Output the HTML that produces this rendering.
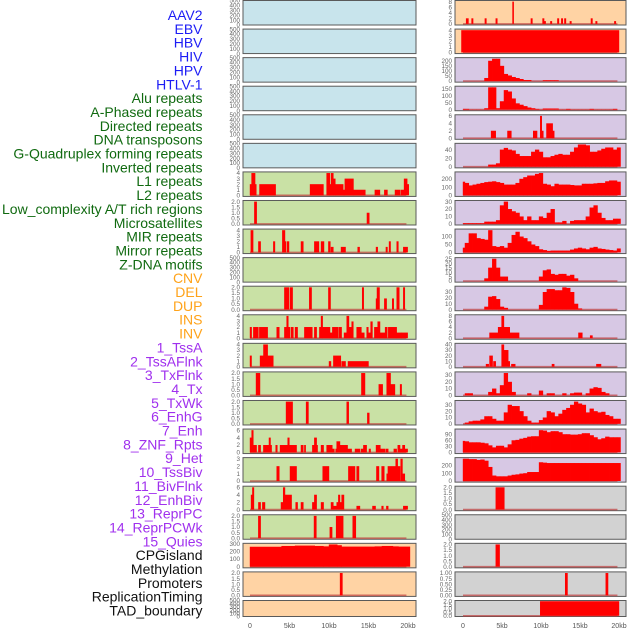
<!DOCTYPE html>
<html><head><meta charset="utf-8">
<style>
html,body{margin:0;padding:0;background:#fff;}
svg{display:block;font-family:"Liberation Sans",sans-serif;}
</style></head>
<body>
<svg id="chart" width="630" height="630" viewBox="0 0 630 630" xmlns="http://www.w3.org/2000/svg"></svg>
<script>
// ---------- labels ----------
const labelTexts = ["AAV2","EBV","HBV","HIV","HPV","HTLV-1","Alu repeats","A-Phased repeats","Directed repeats","DNA transposons","G-Quadruplex forming repeats","Inverted repeats","L1 repeats","L2 repeats","Low_complexity A/T rich regions","Microsatellites","MIR repeats","Mirror repeats","Z-DNA motifs","CNV","DEL","DUP","INS","INV","1_TssA","2_TssAFlnk","3_TxFlnk","4_Tx","5_TxWk","6_EnhG","7_Enh","8_ZNF_Rpts","9_Het","10_TssBiv","11_BivFlnk","12_EnhBiv","13_ReprPC","14_ReprPCWk","15_Quies","CPGisland","Methylation","Promoters","ReplicationTiming","TAD_boundary"];
const labelGroups = [6,13,5,15,5];
const labelColors = ["#1c1cf5","#106a10","#ffa31a","#a030ee","#111111"];
const xTickLabels = ["0","5kb","10kb","15kb","20kb"];
const xTickValues = [0,5,10,15,20];

// ---------- tick label sets ----------
const t500 = ["0","100","200","300","400","500"];
const t4 = ["0","1","2","3","4"];
const t2 = ["0.0","0.5","1.0","1.5","2.0"];
const t6 = ["0","2","4","6"];
const t3 = ["0","1","2","3"];
const t8 = ["0","2","4","6","8"];
const t300 = ["0","100","200","300"];
const t200a = ["0","50","100","150","200"];
const t150 = ["0","50","100","150"];
const t40 = ["0","20","40"];
const t200 = ["0","100","200"];
const t30 = ["0","10","20","30"];
const t100 = ["0","50","100"];
const t25 = ["0","5","10","15","20","25"];
const t40b = ["0","10","20","30","40"];
const t90 = ["0","30","60","90"];
const t1 = ["0.00","0.25","0.50","0.75","1.00"];

// ---------- left column data: segments [startKb, endKb, value] ----------
const lEmpty = [];
const lL1 = [[0,0.2,2],[0.2,0.65,4],[0.65,0.8,2],[1.2,3.25,2],[7.6,9.3,2],[9.7,10.1,4],[10.1,10.25,2],[10.25,10.55,4],[10.55,10.8,3],[10.8,11.8,2],[11.8,12.0,1],[12.0,13.1,3],[13.1,14.6,1],[15.8,16.45,1],[17.0,17.4,1],[18.35,19.0,1],[19.1,19.5,1],[19.5,19.9,3],[19.9,20.1,2]];
const lL2 = [[0.55,0.85,2],[14.8,15.1,1]];
const lLowc = [[0.1,0.4,4],[1.06,1.35,2],[2.95,3.16,2],[4.09,4.43,4],[4.43,4.55,2],[4.68,4.94,2],[6.45,6.75,2],[8.14,8.73,2],[8.99,9.37,2],[9.92,10.17,2],[10.25,10.55,1],[11.52,12.1,1],[13.63,13.88,1],[15.95,16.17,1],[17.2,17.4,1],[17.6,17.8,2],[18.57,18.78,2],[19.4,19.96,1]];
const lMIR = [[4.35,4.94,2],[5.07,5.4,2],[7.5,7.8,2],[9.92,10.2,2],[14.2,14.4,2],[15.95,16.07,1],[16.07,16.4,2],[17.0,17.3,1],[18.0,18.2,1],[18.57,18.9,2],[19.4,19.6,2]];
const lMirror = [[0,0.21,2],[0.42,1.06,2],[1.18,2.24,2],[3.38,3.71,2],[4.35,4.64,2],[4.64,4.85,4],[4.85,5.06,2],[5.19,5.49,2],[5.7,6.03,2],[6.88,7.89,2],[8.14,8.44,2],[8.78,8.99,2],[8.99,9.2,4],[9.2,10.13,2],[10.13,10.42,1],[10.42,11.18,2],[11.27,11.6,2],[11.9,12.24,1],[12.24,12.53,4],[12.53,12.87,2],[12.87,13.08,3],[13.5,14.1,2],[14.1,14.47,1],[14.77,14.98,2],[14.98,15.27,1],[15.27,15.5,3],[15.74,16.16,2],[16.16,16.46,3],[16.46,17.1,1],[17.1,17.38,2],[17.5,18.57,2],[18.57,19.2,1],[19.2,19.96,1]];
const lZDNA = [[0,0.2,2],[1.27,1.7,2],[1.7,2.24,4],[2.24,2.95,2],[10,10.25,1],[10.55,11.5,2],[11.6,12.1,1],[12.4,15.0,1]];
const lCNV = [[0.76,1.27,2],[14.1,14.56,2],[16.3,16.8,1],[17.3,17.8,2],[17.8,18.35,1],[19.0,19.2,1]];
const lDEL = [[4.56,5.4,2],[7.1,7.4,2],[12.24,12.5,2],[14.85,15.1,1]];
const lDUP = [[0,0.21,4],[0.21,0.42,6],[0.42,0.84,2],[1.06,1.35,2],[1.69,2.4,2],[2.4,2.6,4],[2.6,2.74,2],[3.25,3.46,2],[3.8,4.77,2],[4.77,4.98,4],[4.98,5.9,2],[6.45,6.75,2],[6.88,7.05,2],[7.89,8.14,2],[8.14,8.44,4],[8.44,8.56,2],[8.99,9.32,2],[9.7,10.42,2],[10.42,10.68,1],[10.84,10.97,1],[10.97,11.39,3],[11.39,12.36,2],[12.36,12.87,1],[13.29,13.92,1],[14.05,14.35,1],[14.35,14.77,2],[15.06,15.27,1],[15.95,16.5,2],[16.5,17.1,1],[17.2,17.5,1],[18.2,18.57,1],[18.7,19.0,2],[19.0,19.3,1],[19.3,19.6,2],[19.6,19.96,1]];
const lINS = [[3.38,3.71,2],[5.06,5.9,2],[9.2,10.0,2],[12.45,13.3,2],[13.5,13.8,2],[16.0,16.33,2],[16.66,17.0,2],[17.3,17.45,1],[17.45,18.44,2],[18.44,18.7,3],[18.7,19.0,2],[19.07,19.3,3],[19.3,19.6,1]];
const lINV = [[0.13,0.3,4],[0.3,0.5,6],[1.06,1.35,2],[1.56,1.9,2],[3.92,4.2,2],[4.2,4.43,6],[4.43,4.56,4],[4.56,5.27,4],[5.78,6.03,2],[6.45,6.75,2],[7.89,8.14,2],[8.14,8.44,4],[8.99,9.32,2],[10.25,10.55,2],[10.55,10.97,1],[10.97,11.18,2],[11.18,11.39,4],[11.39,11.6,2],[11.6,11.9,4],[13.5,13.92,1],[15.5,15.9,1],[16.66,16.88,1],[17.26,17.5,1],[19.4,19.96,1]];
const lTssA = [[1.05,1.35,2],[8.1,8.4,2],[10.1,10.4,1],[10.9,11.8,2],[13.0,13.4,2]];
const lCpg = [[0,4.0,260],[4.0,5.7,270],[5.7,8.2,275],[8.2,9.3,270],[9.3,10.0,265],[10.0,11.05,290],[11.05,11.6,280],[11.6,15.8,262],[15.8,16.7,265],[16.7,18.1,270],[18.1,18.8,265],[18.8,20.25,262]];
const lProm = [[11.4,11.7,2]];

// ---------- right column data ----------
const rAAV2 = [[0.4,0.7,2],[1.1,1.3,2],[2.8,3.0,2],[4.2,4.4,2],[6.35,6.5,8],[8.7,8.9,2],[10.2,10.4,2],[10.4,10.6,1],[11.2,11.4,1],[12.1,12.3,2],[12.6,12.8,2],[13.0,13.2,2],[13.7,13.9,1],[16.4,16.6,2],[17.0,17.2,1],[19.4,19.6,1]];
const rEBV = [[-0.2,20.0,4]];
const rAlu = [[3.6,4.2,2],[5.7,6.2,2],[9.0,9.5,2],[9.9,10.1,6],[10.1,10.3,2],[10.7,11.5,4],[11.5,11.7,2]];
const rL2 = [[3.4,4.5,2],[4.5,4.95,4],[4.95,5.25,8],[5.25,6.0,4],[6.0,7.2,2],[14.8,15.3,2],[16.3,16.6,1]];
const rLowc = [[2.95,3.3,5],[3.4,3.8,20],[3.9,4.2,10],[4.95,5.25,40],[5.25,5.8,30],[5.8,6.0,10],[6.2,6.7,5],[11.4,11.7,5],[17.1,17.7,5]];
const rEmpty = [];
const rR17 = [[4.2,5.3,2]];
const rR19 = [[4.2,4.7,2]];
const rR20 = [[13.1,13.4,1],[18.3,18.6,1]];
const rR21 = [[9.9,20.0,2]];
// binned values, 0.5kb bins centred at 0, 0.5, ... 20kb
const rHIV = [0,0,0,0,0,0,30,200,220,220,150,70,55,40,30,20,10,10,0,0,0,8,8,8,8,0,0,0,0,0,0,0,0,0,0,0,0,0,0,0,0];
const rHPV = [5,5,1,1,1,1,10,160,160,10,60,140,130,80,45,35,25,15,10,5,1,8,8,8,8,1,1,5,1,1,1,1,1,5,1,1,1,1,1,5,1];
const rAphased = [0,0,0,0,0,0,0,5,5,8,40,44,40,38,30,25,25,25,35,40,35,22,22,25,28,30,28,28,35,45,52,52,50,35,35,38,42,45,45,40,45];
const rDirected = [165,150,120,130,140,150,160,165,170,160,150,130,130,130,150,200,220,240,240,260,270,140,130,110,140,130,130,130,125,120,120,140,140,140,145,150,150,170,180,180,165];
const rDNAtrans = [1,1,1,1,1,1,3,3,3,5,25,30,20,17,15,10,5,10,5,5,10,8,15,20,2,2,4,0,4,5,5,5,10,22,25,15,8,5,5,7,7];
const rGquad = [30,60,120,120,90,85,80,140,40,35,40,30,60,110,130,100,90,70,50,40,20,15,10,12,12,12,12,12,18,25,30,25,20,30,35,25,22,18,15,12,25];
const rInverted = [0,0,0,0,0,0,3,15,25,15,5,5,0,0,0,0,0,0,0,0,5,12,13,8,7,8,8,6,7,3,0,0,0,0,0,0,0,0,0,0,0];
const rL1 = [0,0,0,0,0,0,5,22,23,18,5,3,0,0,0,0,0,0,0,0,8,30,35,35,33,33,38,37,30,10,2,0,0,0,0,0,0,0,0,0,0];
const rMicro = [0,3,3,0,0,0,0,5,10,3,15,33,20,5,0,0,0,3,0,0,7,0,3,3,0,0,3,0,3,4,4,0,3,10,12,11,5,3,0,0,0];
const rMIR = [0,2,4,5,5,7,12,12,8,5,5,18,30,28,28,20,12,5,2,2,6,10,20,18,12,16,22,25,30,35,32,30,18,24,20,18,19,14,12,8,8];
const rMirror = [57,55,50,50,50,48,45,35,25,33,33,25,40,60,62,68,72,78,80,80,110,108,100,105,105,100,90,90,88,88,90,95,95,85,75,65,70,78,75,75,75];
const rZDNA = [285,285,280,280,270,275,260,180,70,60,60,60,70,80,85,95,100,115,115,115,240,235,230,230,230,230,230,230,230,230,230,230,230,230,230,230,230,230,230,230,230];

const BG = {blue:"#c8e4ec", green:"#c9e1a5", orange:"#ffd3a4", purple:"#d7c8e4", gray:"#d2d2d2"};

const leftRows = [
  [lEmpty,t500,"blue"],[lEmpty,t500,"blue"],[lEmpty,t500,"blue"],[lEmpty,t500,"blue"],[lEmpty,t500,"blue"],[lEmpty,t500,"blue"],
  [lL1,t4,"green"],[lL2,t2,"green"],[lLowc,t4,"green"],[lEmpty,t500,"green"],[lMIR,t2,"green"],[lMirror,t4,"green"],
  [lZDNA,t4,"green"],[lCNV,t2,"green"],[lDEL,t2,"green"],[lDUP,t6,"green"],[lINS,t3,"green"],[lINV,t6,"green"],[lTssA,t2,"green"],
  [lCpg,t300,"orange"],[lProm,t2,"orange"],[lEmpty,t500,"orange"]
];
const rightRows = [
  [rAAV2,t8,"orange"],[rEBV,t4,"orange"],[rHIV,t200a,"purple"],[rHPV,t150,"purple"],[rAlu,t6,"purple"],[rAphased,t40,"purple"],
  [rDirected,t200,"purple"],[rDNAtrans,t30,"purple"],[rGquad,t100,"purple"],[rInverted,t25,"purple"],[rL1,t30,"purple"],[rL2,t8,"purple"],
  [rLowc,t40b,"purple"],[rMicro,t30,"purple"],[rMIR,t30,"purple"],[rMirror,t90,"purple"],[rZDNA,t200,"purple"],
  [rR17,t2,"gray"],[rEmpty,t500,"gray"],[rR19,t2,"gray"],[rR20,t1,"gray"],[rR21,t2,"gray"]
];

const NS = "http://www.w3.org/2000/svg";
const svg = document.getElementById("chart");
function mk(tag, attrs, parent){ const e=document.createElementNS(NS,tag); for(const k in attrs) e.setAttribute(k,attrs[k]); (parent||svg).appendChild(e); return e; }

const xLeft = kb => 250 + 7.9*kb;
const xRight = kb => 463 + 7.8*kb;
const cols = [{rows:leftRows, x:xLeft, x0:243, x1:416, name:"left"},{rows:rightRows, x:xRight, x0:455, x1:626, name:"right"}];

function toSegs(d){
  if(d.length && !Array.isArray(d[0])){
    return d.map((v,k)=>[Math.max(0,k*0.5-0.25), Math.min(20.2,k*0.5+0.25), v]);
  }
  return d;
}

cols.forEach(col=>{
  col.rows.forEach((row,i)=>{
    const [data,ticks,bg] = row;
    const top = i<21 ? 0.5 + i*28.57 : 600.5;
    const h = i<21 ? 24.5 : 16;
    const bottom = top+h;
    const g = mk("g",{});
    
    
    const bgR = mk("rect",{x:col.x0,y:top,width:col.x1-col.x0,height:h,fill:BG[bg],stroke:"#5a5a5a","stroke-width":1},g);
    
    
    const segs = toSegs(data);
    let M = 0; segs.forEach(s=>{ if(s[2]>M) M=s[2]; });
    const empty = M===0;
    if(empty) M = 500;
    const yScale = v => empty ? bottom - h*(v/500) : bottom - h*(v + 0.05*M)/(1.1*M);
    ticks.forEach(t=>{
      const v = parseFloat(t);
      const tx = mk("text",{x:col.x0-3,y:yScale(v)+2.2,"font-size":6.3,fill:"#666","text-anchor":"end"},g);
      tx.textContent = t;
      
      
    });
    if(!empty){
      const bl = mk("line",{x1:col.x(0),x2:col.x(19.8),y1:yScale(0),y2:yScale(0),stroke:"#c04040","stroke-width":1.6,opacity:0.7},g);
      
      
      segs.forEach(s=>{
        if(s[2]<=0) return;
        const xa = col.x(s[0]), xb = col.x(s[1]);
        const ya = yScale(s[2]), yb = yScale(0);
        const r = mk("rect",{x:xa-0.2,y:ya,width:Math.max(1,xb-xa+0.4),height:yb-ya,fill:"#ff0000"},g);
        
        
      });
    }
  });
  xTickValues.forEach((v,j)=>{
    const t = mk("text",{x:col.x(v),y:628,"font-size":7,fill:"#555","text-anchor":"middle"});
    t.textContent = xTickLabels[j];
    
    
  });
});

// labels: uniform baseline pitch
const labelY = i => 20 + i*13.85;
let gi=0, cnt=0;
labelTexts.forEach((txt,i)=>{
  while(cnt>=labelGroups[gi]){ gi++; cnt=0; }
  cnt++;
  const t = mk("text",{x:202.5,y:labelY(i),"font-size":14,fill:labelColors[gi],"text-anchor":"end"});
  t.textContent = txt;
  
  
});
</script>
</body></html>
